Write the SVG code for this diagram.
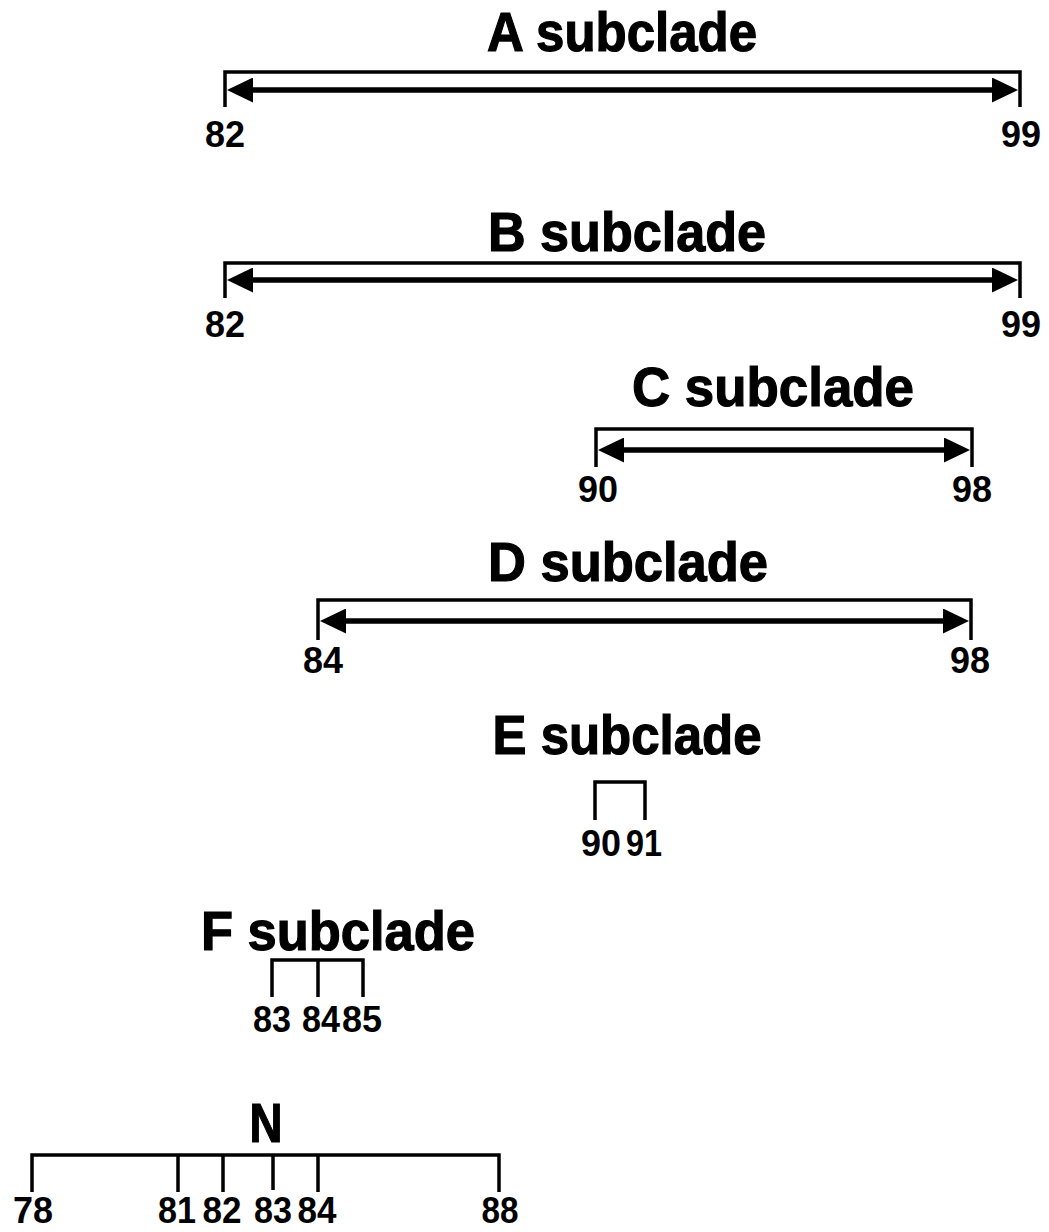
<svg xmlns="http://www.w3.org/2000/svg" width="1049" height="1232" viewBox="0 0 1049 1232">
<style>
.title{font-family:"Liberation Sans",Arial,sans-serif;font-weight:bold;font-size:56px;fill:#000;stroke:#000;stroke-width:1.2px;text-anchor:middle}
.num{font-family:"Liberation Sans",Arial,sans-serif;font-weight:bold;font-size:37px;fill:#000;text-anchor:middle}
.br{fill:none;stroke:#000;stroke-width:3.5;stroke-linejoin:miter}
.arr{stroke:#000;stroke-width:5.5;marker-start:url(#ah);marker-end:url(#ah)}
</style>
<defs>
<marker id="ah" markerUnits="userSpaceOnUse" markerWidth="26" markerHeight="25" refX="12" refY="12.5" orient="auto-start-reverse" viewBox="0 0 26 25">
<path d="M0,0 L26,12.5 L0,25 Z" fill="#000"/>
</marker>
</defs>
<rect width="1049" height="1232" fill="#fff"/>
<g id="A">
<text class="title" x="622" y="51" textLength="270" lengthAdjust="spacingAndGlyphs">A subclade</text>
<text class="num" x="225" y="147" textLength="40" lengthAdjust="spacingAndGlyphs">82</text>
<text class="num" x="1021" y="147" textLength="40" lengthAdjust="spacingAndGlyphs">99</text>
</g>
<g id="B">
<text class="title" x="627" y="251" textLength="278" lengthAdjust="spacingAndGlyphs">B subclade</text>
<text class="num" x="225" y="337" textLength="40" lengthAdjust="spacingAndGlyphs">82</text>
<text class="num" x="1021" y="337" textLength="40" lengthAdjust="spacingAndGlyphs">99</text>
</g>
<g id="C">
<text class="title" x="773" y="406" textLength="282" lengthAdjust="spacingAndGlyphs">C subclade</text>
<text class="num" x="598" y="502" textLength="40" lengthAdjust="spacingAndGlyphs">90</text>
<text class="num" x="972" y="502" textLength="40" lengthAdjust="spacingAndGlyphs">98</text>
</g>
<g id="D">
<text class="title" x="628" y="581" textLength="280" lengthAdjust="spacingAndGlyphs">D subclade</text>
<text class="num" x="323" y="673" textLength="40" lengthAdjust="spacingAndGlyphs">84</text>
<text class="num" x="970" y="673" textLength="40" lengthAdjust="spacingAndGlyphs">98</text>
</g>
<g id="E">
<text class="title" x="627" y="754" textLength="269" lengthAdjust="spacingAndGlyphs">E subclade</text>
<text class="num" x="601" y="856" textLength="40" lengthAdjust="spacingAndGlyphs">90</text>
<text class="num" x="644" y="856" textLength="36" lengthAdjust="spacingAndGlyphs">91</text>
</g>
<g id="F">
<text class="title" x="338" y="950" textLength="274" lengthAdjust="spacingAndGlyphs">F subclade</text>
<text class="num" x="272" y="1032" textLength="38" lengthAdjust="spacingAndGlyphs">83</text>
<text class="num" x="321" y="1032" textLength="38" lengthAdjust="spacingAndGlyphs">84</text>
<text class="num" x="362" y="1032" textLength="40" lengthAdjust="spacingAndGlyphs">85</text>
</g>
<g id="N">
<text class="title" x="266" y="1142" textLength="33" lengthAdjust="spacingAndGlyphs">N</text>
<text class="num" x="33" y="1223" textLength="40" lengthAdjust="spacingAndGlyphs">78</text>
<text class="num" x="177" y="1223" textLength="38" lengthAdjust="spacingAndGlyphs">81</text>
<text class="num" x="222" y="1223" textLength="39" lengthAdjust="spacingAndGlyphs">82</text>
<text class="num" x="273" y="1223" textLength="38" lengthAdjust="spacingAndGlyphs">83</text>
<text class="num" x="317" y="1223" textLength="39" lengthAdjust="spacingAndGlyphs">84</text>
<text class="num" x="500" y="1223" textLength="37" lengthAdjust="spacingAndGlyphs">88</text>
</g>
<g id="connectors">
<path class="br" d="M225,107 V72 H1020 V107"/>
<line class="arr" x1="241" y1="90" x2="1004" y2="90"/>
<path class="br" d="M225,298 V263 H1020 V298"/>
<line class="arr" x1="241" y1="280" x2="1004" y2="280"/>
<path class="br" d="M596,467 V429 H972 V467"/>
<line class="arr" x1="612" y1="450" x2="956" y2="450"/>
<path class="br" d="M318,640 V600 H971 V640"/>
<line class="arr" x1="334" y1="621" x2="955" y2="621"/>
<path class="br" d="M595,820 V782 H645 V820"/>
<path class="br" d="M272,997 V960 H363 V997 M318,960 V997"/>
<path class="br" d="M32,1192 V1155 H499 V1192 M178,1155 V1192 M223,1155 V1192 M273,1155 V1190 M318,1155 V1192"/>
</g>
</svg>
